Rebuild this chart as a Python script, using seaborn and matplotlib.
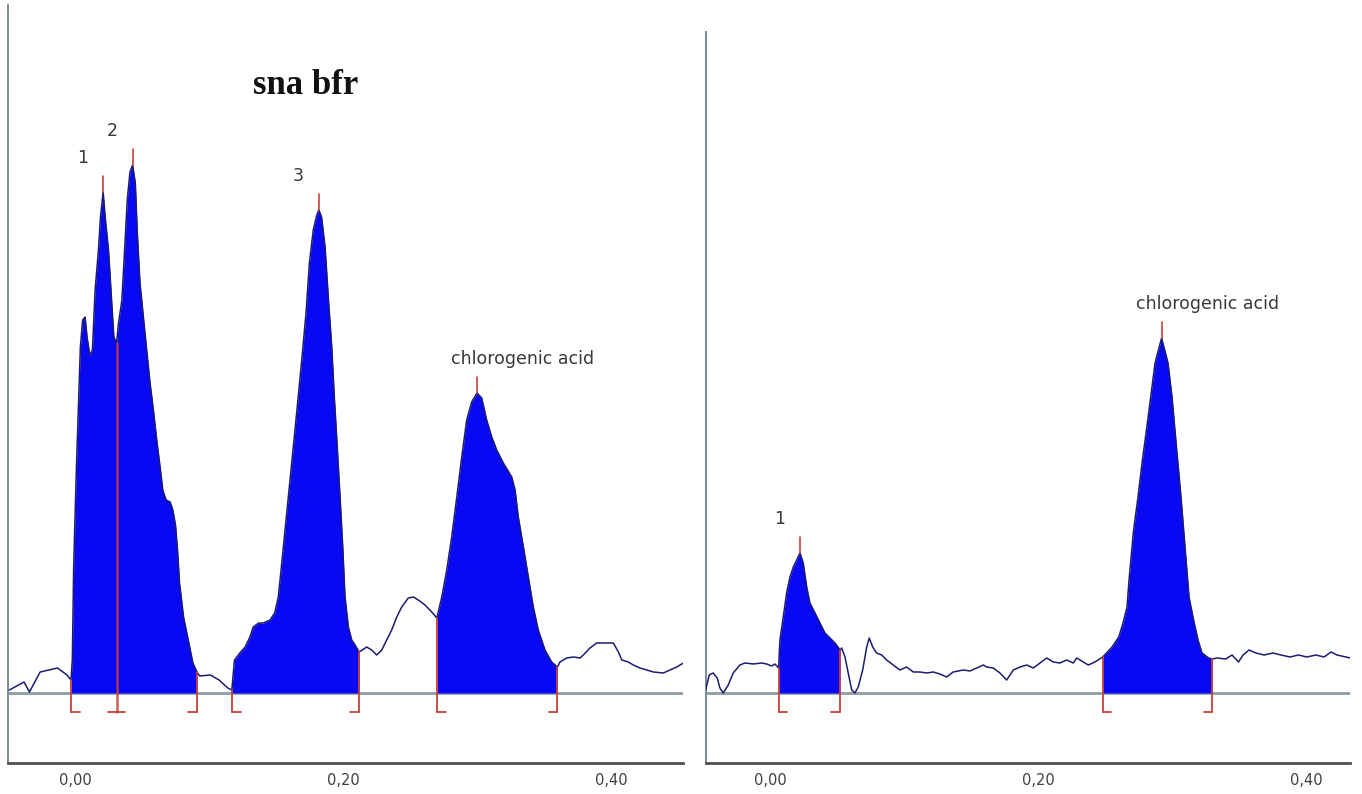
import numpy as np
import pandas as pd
import matplotlib
matplotlib.use("Agg")
import matplotlib.pyplot as plt
import seaborn as sns

# ---------------------------------------------------------------- data
# Densitometric trace, left track (sample "sna bfr")
left_time = [
    -0.049, -0.038, -0.034, -0.026, -0.013, -0.006, -0.003,
    -0.002, -0.001, 0.001, 0.0025, 0.004, 0.0057, 0.0075, 0.009, 0.011, 0.013,
    0.015, 0.0175, 0.019, 0.021, 0.0225, 0.025, 0.0265, 0.028, 0.029, 0.031,
    0.0325, 0.035, 0.037, 0.039, 0.041, 0.043, 0.045, 0.0465, 0.0485, 0.051,
    0.0535, 0.056, 0.0585, 0.061, 0.0635, 0.0655, 0.068, 0.071, 0.073, 0.075,
    0.0765, 0.078, 0.081, 0.085, 0.088, 0.091,
    0.093, 0.101, 0.1075, 0.114, 0.117,
    0.119, 0.123, 0.127, 0.1305, 0.133, 0.137, 0.1405, 0.1455, 0.149, 0.1517,
    0.1543, 0.158, 0.1617, 0.1654, 0.169, 0.1724, 0.1749, 0.1778, 0.1804, 0.182,
    0.184, 0.1866, 0.189, 0.1916, 0.1935, 0.1957, 0.1978, 0.1998, 0.2015, 0.204,
    0.2065, 0.209, 0.212,
    0.2177, 0.2214, 0.2251, 0.2289, 0.2326, 0.2363, 0.2401, 0.2438, 0.2487,
    0.2525, 0.2562, 0.2612, 0.2662, 0.270,
    0.2737, 0.2774, 0.2811, 0.2849, 0.2886, 0.2923, 0.296, 0.300, 0.3035, 0.3072,
    0.311, 0.3147, 0.3196, 0.3259, 0.3284, 0.3308, 0.3346, 0.3383, 0.342, 0.3457,
    0.3507, 0.3557, 0.360,
    0.3619, 0.3669, 0.3719, 0.3769, 0.3793, 0.3843, 0.3893, 0.3943, 0.4017, 0.4055,
    0.408, 0.4129, 0.4166, 0.4216, 0.4266, 0.4316, 0.439, 0.444, 0.449, 0.454,
]
left_signal = [
    0.03, 0.11, 0.01, 0.21, 0.25, 0.18, 0.13,
    0.33, 1.26, 2.23, 2.83, 3.46, 3.73, 3.76, 3.56, 3.38, 3.43,
    4.03, 4.43, 4.76, 5.01, 4.76, 4.43, 4.10, 3.76, 3.56, 3.50,
    3.70, 3.93, 4.43, 4.93, 5.21, 5.28, 5.10, 4.60, 4.10, 3.76,
    3.43, 3.10, 2.83, 2.53, 2.26, 2.03, 1.93, 1.91, 1.83, 1.68,
    1.43, 1.10, 0.76, 0.50, 0.30, 0.21,
    0.17, 0.18, 0.13, 0.05, 0.03,
    0.33, 0.40, 0.46, 0.56, 0.66, 0.70, 0.70, 0.73, 0.80, 0.96,
    1.30, 1.80, 2.30, 2.80, 3.30, 3.80, 4.30, 4.63, 4.78, 4.83,
    4.76, 4.46, 3.96, 3.46, 2.96, 2.46, 1.96, 1.46, 0.96, 0.66,
    0.53, 0.48, 0.41,
    0.46, 0.43, 0.38, 0.43, 0.53, 0.63, 0.76, 0.86, 0.95,
    0.96, 0.93, 0.88, 0.81, 0.75,
    0.96, 1.23, 1.56, 1.96, 2.36, 2.73, 2.91, 3.00, 2.95, 2.73,
    2.56, 2.43, 2.30, 2.16, 2.03, 1.76, 1.46, 1.16, 0.86, 0.63,
    0.43, 0.31, 0.26,
    0.31, 0.35, 0.36, 0.35, 0.38, 0.45, 0.50, 0.50, 0.50, 0.41,
    0.33, 0.31, 0.28, 0.25, 0.23, 0.21, 0.20, 0.23, 0.26, 0.30,
]
left_windows = [(-0.003, 0.091), (0.117, 0.212), (0.270, 0.360)]
left_split = [0.031]
left_peak_times = [0.021, 0.043, 0.182, 0.300]
left_peak_labels = ["1", "2", "3", "chlorogenic acid"]

# Densitometric trace, right track (reference)
right_time = [
    -0.049, -0.0458, -0.0428, -0.0398, -0.0378, -0.0353, -0.0316, -0.0279,
    -0.0229, -0.0191, -0.0129, -0.0066, -0.0029, 0.0008, 0.0033, 0.006,
    0.007, 0.0095, 0.012, 0.0145, 0.017, 0.0195, 0.022, 0.0244, 0.027, 0.0294,
    0.0332, 0.0369, 0.0406, 0.0444, 0.0481, 0.052,
    0.0531, 0.0556, 0.058, 0.0606, 0.063, 0.0655, 0.0688, 0.0718, 0.0737, 0.0763,
    0.0792, 0.083, 0.0867, 0.0916, 0.0966, 0.1016, 0.1066, 0.1116, 0.1166, 0.1215,
    0.1265, 0.1315, 0.1364, 0.1439, 0.1489, 0.1539, 0.1589, 0.1614, 0.1663, 0.1713,
    0.1763, 0.1813, 0.1863, 0.1913, 0.1962, 0.2012, 0.2062, 0.2111, 0.2161, 0.2211,
    0.2261, 0.2286, 0.2335, 0.2373, 0.2423, 0.248,
    0.255, 0.260, 0.2632, 0.2662, 0.2677, 0.2711, 0.2744, 0.2774, 0.2807, 0.2839,
    0.2871, 0.292, 0.2968, 0.2998, 0.3031, 0.3065, 0.3095, 0.3125, 0.3159, 0.3192,
    0.3222, 0.3271, 0.330,
    0.3334, 0.3399, 0.3446, 0.3495, 0.3528, 0.3573, 0.3625, 0.3685, 0.3752, 0.3812,
    0.3879, 0.3943, 0.4005, 0.4073, 0.4133, 0.4185, 0.423, 0.4297, 0.4327,
]
right_signal = [
    0.00, 0.18, 0.20, 0.15, 0.05, 0.00, 0.08, 0.20,
    0.28, 0.30, 0.29, 0.30, 0.29, 0.27, 0.29, 0.25,
    0.53, 0.76, 1.00, 1.16, 1.26, 1.33, 1.40, 1.30, 1.06, 0.90,
    0.80, 0.70, 0.60, 0.55, 0.50, 0.43,
    0.45, 0.36, 0.20, 0.03, 0.00, 0.06, 0.23, 0.46, 0.55, 0.46,
    0.40, 0.38, 0.33, 0.28, 0.23, 0.26, 0.21, 0.21, 0.20, 0.21,
    0.19, 0.16, 0.21, 0.23, 0.22, 0.25, 0.28, 0.26, 0.25, 0.20,
    0.13, 0.23, 0.26, 0.28, 0.25, 0.30, 0.35, 0.31, 0.30, 0.33,
    0.30, 0.35, 0.31, 0.28, 0.31, 0.36,
    0.46, 0.56, 0.70, 0.86, 1.13, 1.63, 1.96, 2.30, 2.63, 2.96,
    3.30, 3.55, 3.30, 2.96, 2.46, 1.96, 1.46, 0.96, 0.73, 0.53,
    0.40, 0.35, 0.34,
    0.35, 0.34, 0.38, 0.31, 0.38, 0.43, 0.40, 0.38, 0.40, 0.38,
    0.36, 0.38, 0.36, 0.38, 0.36, 0.41, 0.38, 0.36, 0.35,
]
right_windows = [(0.006, 0.052), (0.248, 0.330)]
right_split = []
right_peak_times = [0.022, 0.292]
right_peak_labels = ["1", "chlorogenic acid"]

tick_values = [0.0, 0.2, 0.4]
tick_labels = ["0,00", "0,20", "0,40"]
title_text = "sna bfr"

# ---------------------------------------------------------------- style
sns.set_theme(style="white")
plt.rcParams["font.family"] = ["DejaVu Sans"]

FILL = "#0808f2"
TRACE = "#1c1c70"
MARK = "#c8413a"
BASE = "#8e9ca4"
YSPINE = "#7a8b95"
XSPINE = "#4e4e4e"
TEXT = "#383838"

Y_LOW, Y_HIGH = -0.70, 6.88
DROP = -0.19        # depth of the integration marks below the baseline
FOOT = 0.0065       # length of the small foot on each integration mark
APEX_TICK = 0.16    # length of the apex marker above each peak

fig = plt.figure(figsize=(13.62, 7.94), dpi=100)
W, H = 1362.0, 794.0
ax_left = fig.add_axes([8 / W, 31 / H, 675 / W, 758 / H])
ax_right = fig.add_axes([706 / W, 31 / H, 644 / W, 758 / H])


def draw_track(ax, time, signal, windows, splits, peak_times, peak_labels,
               xlim, spine_top):
    t = np.asarray(time, dtype=float)
    s = np.asarray(signal, dtype=float)
    lookup = dict(zip(np.round(t, 5), s))

    def level(x):
        return lookup[round(x, 5)]

    ax.axhline(0, color=BASE, lw=2.0, zorder=1)

    for start, end in windows:
        mask = (t >= start - 1e-9) & (t <= end + 1e-9)
        ax.fill_between(t[mask], 0, s[mask], color=FILL, lw=0, zorder=2)

    df = pd.DataFrame({"time": t, "signal": s})
    sns.lineplot(data=df, x="time", y="signal", ax=ax, color=TRACE, lw=1.1,
                 sort=False, estimator=None, zorder=3)

    # integration boundaries: drop line with a foot turned toward the peak
    for start, end in windows:
        for x, direction in ((start, 1), (end, -1)):
            ax.plot([x, x], [level(x), DROP], color=MARK, lw=1.3, zorder=4)
            ax.plot([x, x + direction * FOOT], [DROP, DROP], color=MARK,
                    lw=1.3, zorder=4)
    for x in splits:
        ax.plot([x, x], [level(x), DROP], color=MARK, lw=1.8, alpha=0.85,
                zorder=4)
        ax.plot([x - FOOT, x + FOOT], [DROP, DROP], color=MARK, lw=1.3,
                zorder=4)

    # apex markers and peak names
    for x, name in zip(peak_times, peak_labels):
        top = level(x) + APEX_TICK
        ax.plot([x, x], [level(x), top], color=MARK, lw=1.2, zorder=4)
        ax.annotate(name, xy=(x, top), xytext=(-26, 18),
                    textcoords="offset pixels", ha="left", va="center",
                    fontsize=12.5, color=TEXT, zorder=5)

    ax.set_xlim(*xlim)
    ax.set_ylim(Y_LOW, Y_HIGH)
    ax.set_xticks(tick_values)
    ax.set_xticklabels(tick_labels)
    ax.set_yticks([])
    ax.set_xlabel("")
    ax.set_ylabel("")
    ax.tick_params(axis="x", direction="out", length=4, width=1.0,
                   color="#555555", labelsize=10.5, labelcolor="#404040", pad=3)
    for side in ("top", "right"):
        ax.spines[side].set_visible(False)
    ax.spines["left"].set_color(YSPINE)
    ax.spines["left"].set_linewidth(1.4)
    ax.spines["left"].set_bounds(Y_LOW, spine_top)
    ax.spines["bottom"].set_color(XSPINE)
    ax.spines["bottom"].set_linewidth(2.0)
    ax.patch.set_alpha(0)


draw_track(ax_left, left_time, left_signal, left_windows, left_split,
           left_peak_times, left_peak_labels, (-0.050, 0.4537), Y_HIGH)
draw_track(ax_right, right_time, right_signal, right_windows, right_split,
           right_peak_times, right_peak_labels, (-0.0482, 0.4327), 6.61)

fig.text(306 / W, 1 - 86 / H, title_text, ha="center", va="center",
         fontsize=25, fontweight="bold", family=["Liberation Serif"],
         color="#111111")

fig.savefig("out.png", dpi=100, facecolor="white")
